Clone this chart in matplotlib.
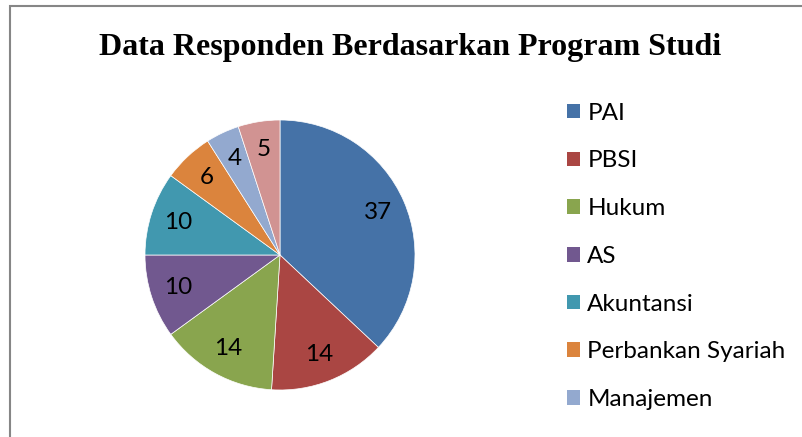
import matplotlib.pyplot as plt
from matplotlib.patches import Rectangle

# data
prodi = ["PAI", "PBSI", "Hukum", "AS", "Akuntansi", "Perbankan Syariah", "Manajemen"]
jumlah = [37, 14, 14, 10, 10, 6, 4, 5]   # slice ke-8 (5) legendanya terpotong di gambar asli
warna = ["#4572A7", "#AA4643", "#89A54E", "#71588F", "#4198AF", "#DB843D", "#93A9CF", "#D19392"]

fig = plt.figure(figsize=(8.03, 4.37), dpi=100)

# chart border (only top/left visible, rest cut off)
fig.add_artist(Rectangle((10 / 803, -0.1), 1.2, 1 - 6 / 437 + 0.1, transform=fig.transFigure,
                         fill=False, edgecolor="#868686", linewidth=1.5))

fig.text(410 / 803, 1 - 48 / 437, "Data Responden Berdasarkan Program Studi",
         ha="center", va="center", fontsize=23, fontweight="bold", family="Liberation Serif")

# pie: center (280,255), r=135 px
r = 135
ax = fig.add_axes([(280 - r) / 803, 1 - (255 + r) / 437, 2 * r / 803, 2 * r / 437])
wedges, _, autotexts = ax.pie(jumlah, colors=warna, startangle=90, counterclock=False,
                              autopct=lambda p: "%d" % round(p * sum(jumlah) / 100),
                              pctdistance=0.79,
                              wedgeprops=dict(edgecolor="white", linewidth=0.5),
                              textprops=dict(fontsize=17.5, family="Lato", color="black"))
ax.set_xlim(-1, 1)
ax.set_ylim(-1, 1)
ax.set_aspect("auto")

leg = fig.legend(wedges[:len(prodi)], prodi, loc="upper left", bbox_to_anchor=(557 / 803, 1 - 93 / 437),
                 frameon=False, prop=dict(family="Lato", size=17.5),
                 handlelength=0.55, handleheight=0.55, handletextpad=0.3,
                 labelspacing=1.1, borderaxespad=0)
for h in leg.legend_handles:
    h.set_edgecolor("none")

plt.savefig("out.png", dpi=100)
